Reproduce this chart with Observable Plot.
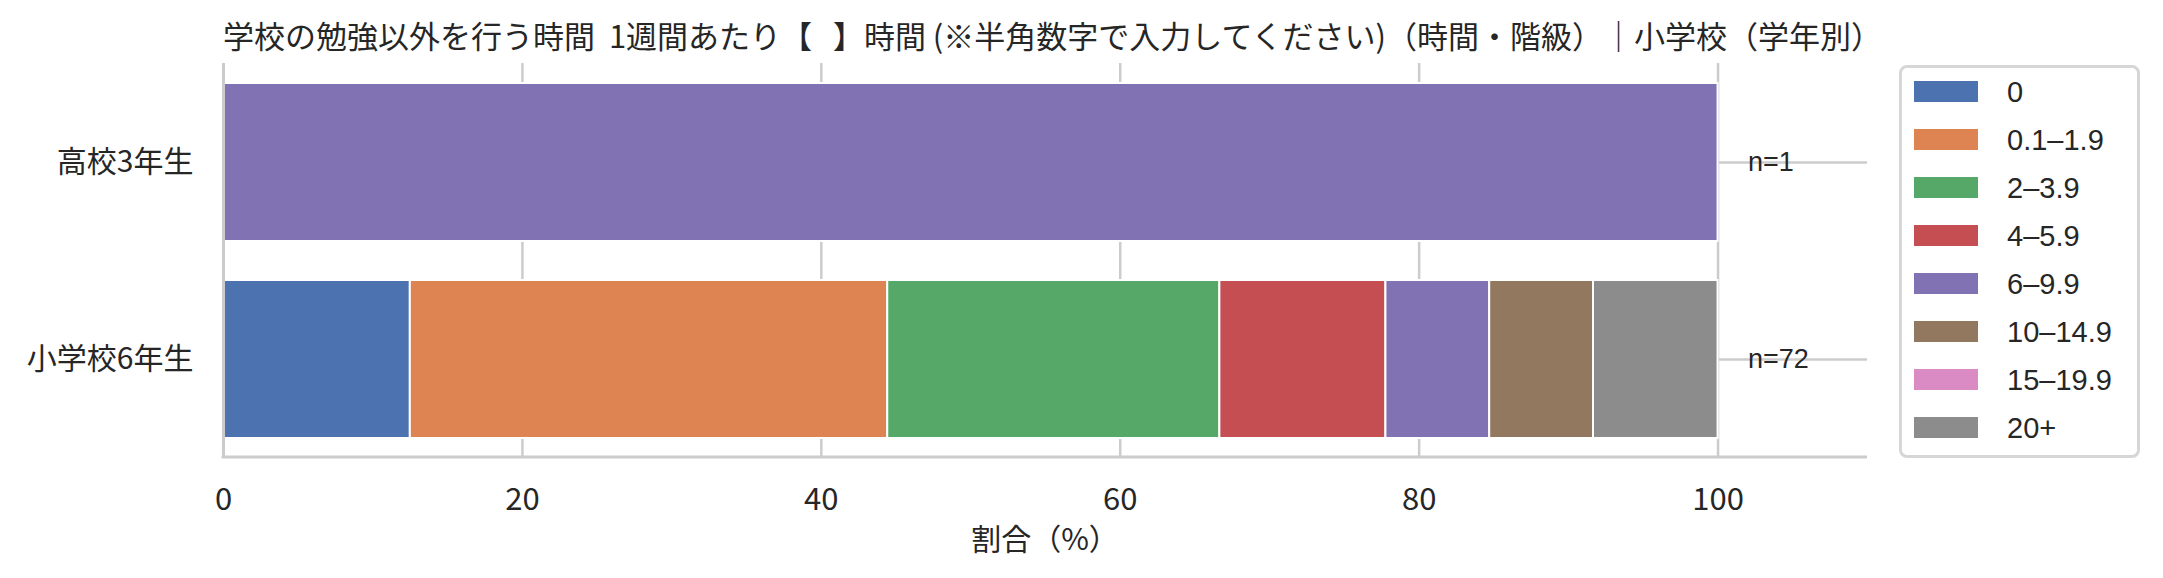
<!DOCTYPE html>
<html>
<head>
<meta charset="utf-8">
<script src="https://cdn.jsdelivr.net/npm/d3@7"></script>
<script src="https://cdn.jsdelivr.net/npm/@observablehq/plot@0.6"></script>
<style>
  html, body { margin: 0; padding: 0; background: #fff; }
  #wrap { position: relative; width: 2163px; height: 578px; overflow: hidden; background: #fff; }
  #wrap svg { position: absolute; left: 0; top: 0; }
  .title { position: absolute; left: 223px; width: 1644px; top: 18px; text-align: center;
           font-family: 'Noto Sans CJK JP', sans-serif; font-size: 31px; line-height: 34px; color: #262626; white-space: pre; }
  .xlabel { position: absolute; left: 223px; width: 1644px; top: 520px; text-align: center;
           font-family: 'Noto Sans CJK JP', sans-serif; font-size: 30px; line-height: 34px; color: #262626; }
  .legend { position: absolute; left: 1899px; top: 65px; width: 241px; height: 393px; box-sizing: border-box;
            border: 3px solid #d6d6d6; border-radius: 8px; background: #fff; }
  .legend .sw { position: absolute; left: 12px; width: 64px; height: 21px; }
  .legend .lb { position: absolute; left: 105px; font-family: 'Liberation Sans', Arial, sans-serif; font-size: 29px;
                line-height: 34px; color: #262626; white-space: nowrap; }
</style>
</head>
<body>
<div id="wrap"></div>
<script>
// ---- data ----
const title = "学校の勉強以外を行う時間  1週間あたり【   】時間 (※半角数字で入力してください)（時間・階級）｜小学校（学年別）";
const xLabel = "割合（%）";
const grades = ["高校3年生", "小学校6年生"];
const nValues = [1, 72];
const bins = ["0", "0.1–1.9", "2–3.9", "4–5.9", "6–9.9", "10–14.9", "15–19.9", "20+"];
const binColors = ["#4C72B0", "#DD8452", "#55A868", "#C44E52", "#8172B3", "#937860", "#DA8BC3", "#8C8C8C"];
const countsHigh3 = [0, 0, 0, 0, 1, 0, 0, 0];
const countsElem6 = [9, 23, 16, 8, 5, 5, 0, 6];
const xTicks = [0, 20, 40, 60, 80, 100];

// ---- table built from arrays ----
const allCounts = [countsHigh3, countsElem6];
const rows = [];
grades.forEach((g, gi) => {
  bins.forEach((b, bi) => {
    const c = allCounts[gi][bi];
    if (c > 0) rows.push({grade: g, bin: b, pct: c / nValues[gi] * 100});
  });
});
const nRows = grades.map((g, i) => ({grade: g, label: "n=" + nValues[i], pos: 102}));

const W = 2163, H = 578, ML = 223, MR = 296, MT = 63, MB = 121;

const plot = Plot.plot({
  width: W, height: H,
  marginLeft: ML, marginRight: MR, marginTop: MT, marginBottom: MB,
  style: {fontFamily: "'Noto Sans CJK JP', sans-serif", fontSize: "30px", color: "#262626", background: "transparent"},
  x: {domain: [0, 110]},
  y: {domain: grades, paddingInner: 0.2, paddingOuter: 0.1},
  color: {domain: bins, range: binColors},
  marks: [
    Plot.gridX({ticks: xTicks, stroke: "#cccccc", strokeOpacity: 1, strokeWidth: 2.5}),
    Plot.gridY({stroke: "#cccccc", strokeOpacity: 1, strokeWidth: 2.5}),
    Plot.barX(rows, Plot.stackX({x: "pct", y: "grade", fill: "bin", stroke: "white", strokeWidth: 2})),
    Plot.ruleX([0], {stroke: "#cccccc", strokeWidth: 3}),
    Plot.axisX({ticks: xTicks, tickSize: 0, tickPadding: 30, label: null, fontSize: 31}),
    Plot.axisY({tickSize: 0, tickPadding: 30, label: null, fontSize: 30}),
    Plot.text(nRows, {x: "pos", y: "grade", text: "label", textAnchor: "start",
      fontFamily: "'Liberation Sans', Arial, sans-serif", fontSize: 27, fill: "#262626"})
  ]
});

// bottom spine using the plot's x scale
const xs = plot.scale("x");
d3.select(plot).append("line")
  .attr("x1", xs.apply(0) - 1.5).attr("x2", xs.apply(110))
  .attr("y1", H - MB).attr("y2", H - MB)
  .attr("stroke", "#cccccc").attr("stroke-width", 3);

const wrap = document.getElementById("wrap");
wrap.appendChild(plot);

const t = document.createElement("div");
t.className = "title"; t.textContent = title; wrap.appendChild(t);
const xl = document.createElement("div");
xl.className = "xlabel"; xl.textContent = xLabel; wrap.appendChild(xl);

const lg = document.createElement("div");
lg.className = "legend";
bins.forEach((b, i) => {
  const sw = document.createElement("div");
  sw.className = "sw"; sw.style.top = (13 + i * 48) + "px"; sw.style.background = binColors[i];
  lg.appendChild(sw);
  const lb = document.createElement("div");
  lb.className = "lb"; lb.style.top = (13 + i * 48 + 10.5 - 17) + "px"; lb.textContent = b;
  lg.appendChild(lb);
});
wrap.appendChild(lg);
</script>
</body>
</html>
